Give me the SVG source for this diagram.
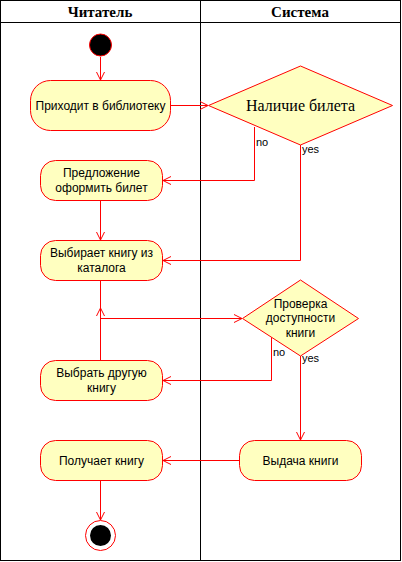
<svg xmlns="http://www.w3.org/2000/svg" width="402" height="562" viewBox="0 0 402 562">
<defs>
<style>
.lane{fill:none;stroke:#000;stroke-width:1}
.hdr{font-family:"Liberation Serif",serif;font-weight:bold;font-size:15px;text-anchor:middle}
.node{fill:#ffffc0;stroke:#ff0000;stroke-width:1}
.t{font-family:"Liberation Sans",Arial,sans-serif;font-size:12px;text-anchor:middle;fill:#000}
.ts{font-family:"Liberation Serif",serif;font-size:16px;text-anchor:middle;fill:#000}
.lbl{font-family:"Liberation Sans",Arial,sans-serif;font-size:11px;fill:#000}
.e{fill:none;stroke:#ff0000;stroke-width:1}
.ea{fill:none;stroke:#ff0000;stroke-width:1;marker-end:url(#arr)}
</style>
<marker id="arr" viewBox="0 0 10 10" refX="9" refY="5" markerWidth="10" markerHeight="10" markerUnits="userSpaceOnUse" orient="auto">
<path d="M1,1 L9,5 L1,9" fill="none" stroke="#ff0000" stroke-width="1"/>
</marker>
</defs>
<rect width="402" height="562" fill="#fff"/>
<g id="lanes">
<rect class="lane" x="0.5" y="0.5" width="400" height="560"/>
<line class="lane" x1="0" y1="22.5" x2="401" y2="22.5"/>
<line class="lane" x1="200.5" y1="0" x2="200.5" y2="561"/>
<text class="hdr" x="100" y="17">Читатель</text>
<text class="hdr" x="300" y="17">Система</text>
</g>
<g id="connectors">
<line class="ea" x1="100.5" y1="57" x2="100.5" y2="80"/>
<line class="ea" x1="171" y1="105.5" x2="208" y2="105.5"/>
<polyline class="ea" points="254.5,127 254.5,180.5 163,180.5"/>
<polyline class="ea" points="300.5,145 300.5,260.5 163,260.5"/>
<line class="ea" x1="100.5" y1="200" x2="100.5" y2="240"/>
<line class="e" x1="100.5" y1="280" x2="100.5" y2="318"/>
<line class="ea" x1="100.5" y1="360" x2="100.5" y2="308"/>
<line class="ea" x1="100.5" y1="318.5" x2="242" y2="318.5"/>
<polyline class="ea" points="271.5,337 271.5,380.5 163,380.5"/>
<line class="ea" x1="300.5" y1="356" x2="300.5" y2="440"/>
<line class="ea" x1="239" y1="460.5" x2="163" y2="460.5"/>
<line class="ea" x1="100.5" y1="481" x2="100.5" y2="520"/>
<text class="lbl" x="256" y="146">no</text>
<text class="lbl" x="302" y="153">yes</text>
<text class="lbl" x="273" y="356">no</text>
<text class="lbl" x="302" y="362">yes</text>
</g>
<g id="start">
<circle cx="100.5" cy="45" r="11" fill="#000" stroke="#ff0000"/>
</g>
<g id="n1">
<rect class="node" x="30.5" y="80.5" width="140" height="50" rx="20"/>
<text class="t" x="100.5" y="109.5">Приходит в библиотеку</text>
</g>
<g id="d1">
<polygon class="node" points="300.5,66 392.5,105.5 300.5,145 208.5,105.5"/>
<text class="ts" x="300.5" y="111">Наличие билета</text>
</g>
<g id="n2">
<rect class="node" x="40.5" y="160.5" width="122" height="40" rx="15"/>
<text class="t" x="101.5" y="177">Предложение</text>
<text class="t" x="101.5" y="192">оформить билет</text>
</g>
<g id="n3">
<rect class="node" x="40.5" y="240.5" width="122" height="40" rx="15"/>
<text class="t" x="101.5" y="257">Выбирает книгу из</text>
<text class="t" x="101.5" y="272">каталога</text>
</g>
<g id="d2">
<polygon class="node" points="300.5,280 358.5,318.5 300.5,356 242.5,318.5"/>
<text class="t" x="300.5" y="308">Проверка</text>
<text class="t" x="300.5" y="322">доступности</text>
<text class="t" x="300.5" y="337">книги</text>
</g>
<g id="n4">
<rect class="node" x="40.5" y="360.5" width="122" height="40" rx="15"/>
<text class="t" x="101.5" y="377">Выбрать другую</text>
<text class="t" x="101.5" y="392">книгу</text>
</g>
<g id="n5">
<rect class="node" x="40.5" y="440.5" width="122" height="40" rx="15"/>
<text class="t" x="101.5" y="465">Получает книгу</text>
</g>
<g id="n6">
<rect class="node" x="239.5" y="440.5" width="122" height="40" rx="15"/>
<text class="t" x="300.5" y="465">Выдача книги</text>
</g>
<g id="end">
<circle cx="100.5" cy="535.5" r="15" fill="#fff" stroke="#ff0000"/>
<circle cx="100.5" cy="535.5" r="10.5" fill="#000"/>
</g>
</svg>
